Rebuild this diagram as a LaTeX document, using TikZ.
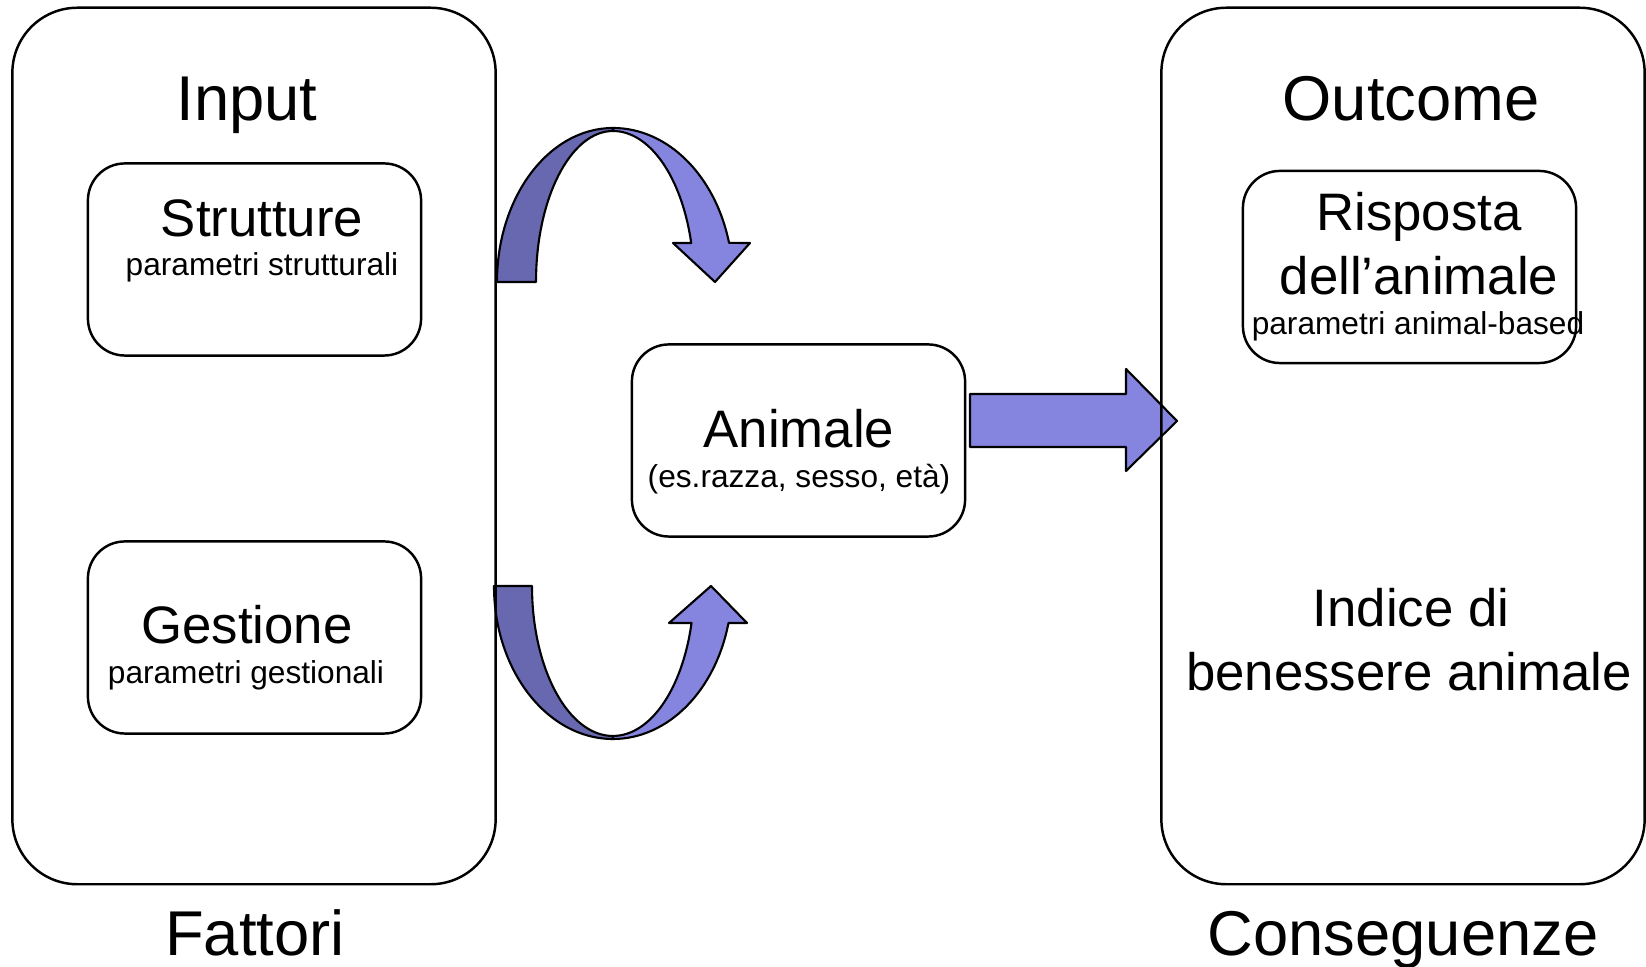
\documentclass[tikz,border=0pt]{standalone}
\usepackage{fontspec}
\setmainfont{Liberation Sans}
\definecolor{arrowlight}{RGB}{133,133,224}
\definecolor{arrowdark}{RGB}{104,104,176}

\begin{document}
\begin{tikzpicture}[x=0.01cm,y=0.01cm,
        bigbox/.style = {draw, line width=0.7pt, rounded corners=0.65cm, minimum width=4.83cm, minimum height=8.76cm},
        smallbox/.style = {draw, line width=0.7pt, rounded corners=0.37cm, minimum width=3.33cm, minimum height=1.92cm},
        heading/.style = {anchor=base, inner sep=0pt, font=\fontsize{18}{21}\selectfont},
        boxtitle/.style = {anchor=base, inner sep=0pt, font=\fontsize{15}{18}\selectfont},
        param/.style = {anchor=base, inner sep=0pt, font=\fontsize{9}{11}\selectfont},
        band/.style = {draw=black, line width=0.6pt, line join=round}]
        \useasboundingbox (0,0) rectangle (1646,967);
        \filldraw[band, fill=arrowdark] (497,685) arc[start angle=180, end angle=90, x radius=116, y radius=154] -- (613,836) arc[start angle=90, end angle=180, x radius=77, y radius=151] -- cycle;
        \filldraw[band, fill=arrowlight] (613,839) arc[start angle=90, end angle=14.7, x radius=120, y radius=154] -- (750,724) -- (715,685) -- (673,724) -- (691.2,724) arc[start angle=14.97, end angle=90, x radius=81, y radius=151] -- cycle;
        \filldraw[band, fill=arrowdark] (494,381) arc[start angle=180, end angle=270, x radius=119, y radius=153] -- (613,231) arc[start angle=270, end angle=180, x radius=81, y radius=150] -- cycle;
        \filldraw[band, fill=arrowlight] (613,228) arc[start angle=270, end angle=346, x radius=119, y radius=153] -- (747,344) -- (711,381) -- (669,344) -- (691.5,344) arc[start angle=345.7, end angle=270, x radius=81, y radius=150] -- cycle;
        \filldraw[band, fill=arrowlight] (970,573) -- (1126,573) -- (1126,598) -- (1177,546) -- (1126,496) -- (1126,520) -- (970,520) -- cycle;
        \node[bigbox] (FattoriBox) at (254,521) {};
        \node[bigbox] (ConseguenzeBox) at (1403,521) {};
        \node[smallbox] (StruttureBox) at (254.5,707.5) {};
        \node[smallbox] (GestioneBox) at (254.5,329.5) {};
        \node[smallbox] (AnimaleBox) at (798.5,526.5) {};
        \node[smallbox] (RispostaBox) at (1409.5,700) {};
        \node[heading] (Input) at (247,846) {Input};
        \node[boxtitle] (Strutture) at (262,730) {Strutture};
        \node[param] (ParStrutture) at (262,691) {parametri strutturali};
        \node[boxtitle] (Gestione) at (247,323) {Gestione};
        \node[param] (ParGestione) at (246,283) {parametri gestionali};
        \node[boxtitle] (Animale) at (799,519) {Animale};
        \node[param] (ParAnimale) at (799,479) {(es.razza, sesso, età)};
        \node[heading] (Outcome) at (1411,846) {Outcome};
        \node[boxtitle] (Risposta) at (1419,736) {Risposta};
        \node[boxtitle] (DellAnimale) at (1419,672) {dell’animale};
        \node[param] (ParRisposta) at (1418,632) {parametri animal-based};
        \node[boxtitle] (Indice) at (1411,340) {Indice di};
        \node[boxtitle] (Benessere) at (1409,276) {benessere animale};
        \node[heading] (Fattori) at (255,11) {Fattori};
        \node[heading] (Conseguenze) at (1403,11) {Conseguenze};
    \end{tikzpicture}
\end{document}
